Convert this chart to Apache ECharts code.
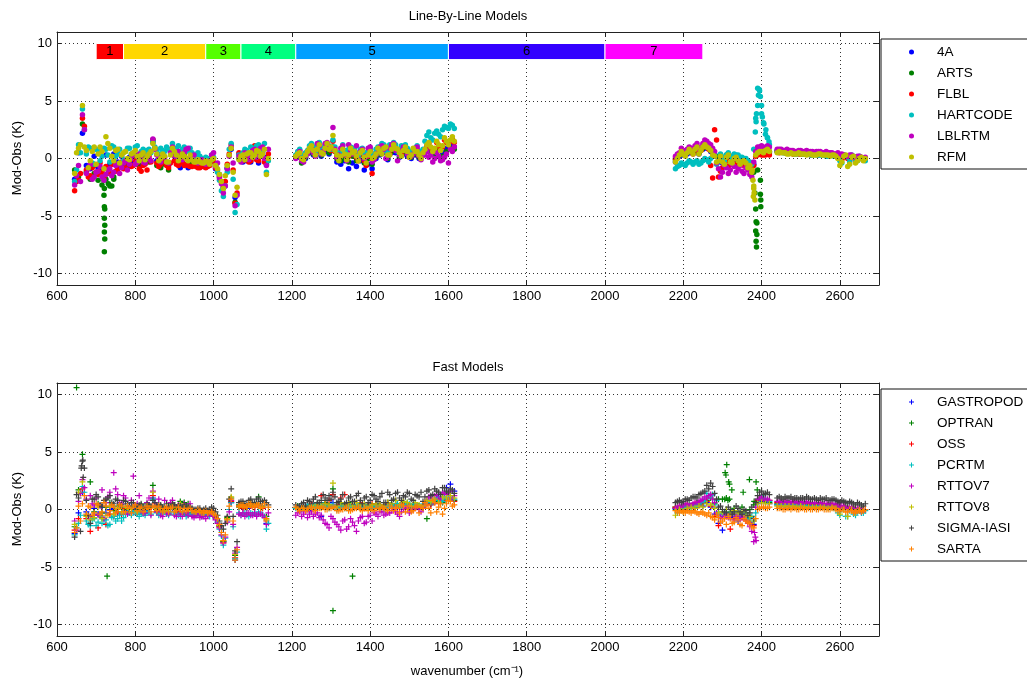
<!DOCTYPE html>
<html lang="en">
<head>
    <meta charset="UTF-8">
    <title>Line-By-Line and Fast Models</title>
    <script src="https://cdn.jsdelivr.net/npm/echarts@6.0.0/dist/echarts.min.js"></script>
    <style>
        html, body { margin: 0; padding: 0; background: #fff; }
    </style>
</head>
<body>
<div id="chartmain" style="width: 1027px; height: 681px;"></div>
<script type="text/javascript">
    // wavenumber samples (cm-1) in the three spectral windows
    var wnA = [645,655,665,675,685,695,705,715,725,735,745,755,765,775,785,795,805,815,825,835,
               845,855,865,875,885,895,905,915,925,935,945,955,965,975,985,995,1005,1015,1025,1035,
               1045,1055,1065,1075,1085,1095,1105,1115,1125,1135];
    var wnB = [1215,1225,1235,1245,1255,1265,1275,1285,1295,1305,1315,1325,1335,1345,1355,1365,1375,1385,1395,1405,
               1415,1425,1435,1445,1455,1465,1475,1485,1495,1505,1515,1525,1535,1545,1555,1565,1575,1585,1595,1605,1615];
    var wnC = [2180,2190,2200,2210,2220,2230,2240,2250,2260,2270,2280,2290,2300,2310,2320,2330,2340,2350,2360,2370,
               2380,2390,2400,2410,2420,
               2440,2450,2460,2470,2480,2490,2500,2510,2520,2530,2540,2550,2560,2570,2580,2590,2600,2610,2620,2630,
               2640,2650,2660];
    // in-between samples (used by the series that fill the middle of the bands)
    var wnA2 = [650,660,670,680,690,700,710,720,730,740,750,760,770,780,790,800,810,820,830,840,
                850,860,870,880,890,900,910,920,930,940,950,960,970,980,990,1000,1010,1020,1030,1040,
                1050,1060,1070,1080,1090,1100,1110,1120,1130,1140];
    var wnB2 = [1210,1220,1230,1240,1250,1260,1270,1280,1290,1300,1310,1320,1330,1340,1350,1360,1370,1380,1390,1400,
                1410,1420,1430,1440,1450,1460,1470,1480,1490,1500,1510,1520,1530,1540,1550,1560,1570,1580,1590,1600,1610];
    var wnC2 = [2185,2195,2205,2215,2225,2235,2245,2255,2265,2275,2285,2295,2305,2315,2325,2335,2345,2355,2365,2375,
                2385,2395,2405,2415,
                2445,2455,2465,2475,2485,2495,2505,2515,2525,2535,2545,2555,2565,2575,2585,2595,2605,2615,2625,2635,
                2645,2655,2665];

    var yTicks = [-10, -5, 0, 5, 10];

    // IASI band bar
    var bandStart = [700, 770, 980, 1070, 1210, 1600, 2000];
    var bandEnd = [770, 980, 1070, 1210, 1600, 2000, 2250];
    var bandNames = ['1', '2', '3', '4', '5', '6', '7'];
    var bandColors = ['#ff0000', '#ffd700', '#55ff00', '#00ff80', '#00a0ff', '#3300ff', '#ff00ff'];

    // ---- Line-By-Line models (Mod-Obs, K) ----
    var lbl4A = [-1.8,0.5,2.2,-0.6,-0.9,0.2,-0.8,-1.0,0.3,-0.5,0.4,-0.3,0.2,-0.6,0.1,-0.4,0.3,-0.6,-0.2,0.4,
                 1.4,-0.2,0.1,-0.4,-0.6,0.8,-0.3,-0.8,-0.5,-0.8,-0.4,-0.6,-0.5,-0.7,-0.6,-0.2,-0.9,-1.5,-2.5,-0.9,
                 0.8,-3.4,0.4,-0.3,-0.2,-0.3,0.9,-0.4,0.5,0.1,
                 0.1,-0.3,0.0,0.5,0.3,0.6,0.2,0.6,0.4,0.7,-0.3,-0.5,-0.2,-0.9,-0.4,-0.7,-0.2,-1.0,-0.5,-0.9,
                 0.0,0.3,0.5,-0.1,0.5,0.5,0.1,0.4,0.2,0.0,0.3,0.0,0.3,0.9,0.7,0.6,0.8,0.5,0.9,1.1,1.0,
                 -0.3,0.2,0.3,0.4,0.5,0.6,0.4,0.8,0.9,0.6,0.2,-0.3,-0.4,-0.1,-0.5,-0.2,-0.3,-0.5,-0.5,-0.7,-0.5,0.5,0.6,0.5,0.5,
                 0.7,0.7,0.6,0.6,0.6,0.5,0.6,0.5,0.5,0.5,0.4,0.5,0.4,0.4,0.4,0.3,0.0,0.3,0.1,0.2,0.0,0.1,-0.1];
    var lblARTS = [-1.0,-1.6,3.0,-1.2,-1.8,-1.3,-1.9,-2.3,-1.8,-2.4,-1.6,-0.9,-0.6,-0.4,-0.7,0.2,-0.5,-0.3,0.0,-0.3,
                   1.6,-0.6,-0.8,-0.5,-1.0,0.4,-0.2,-0.1,0.4,-0.5,-0.3,-0.4,-0.5,-0.6,-0.5,0.0,-0.7,-1.4,-2.6,-0.8,
                   0.9,-3.8,0.0,0.0,0.1,-0.1,0.8,0.1,0.9,-0.5,
                   0.2,-0.4,0.1,0.6,0.4,0.7,0.3,0.8,0.5,1.0,0.0,-0.2,0.1,-0.3,0.2,-0.2,0.3,-0.4,0.0,-0.5,
                   0.2,0.4,0.7,0.0,0.6,0.7,0.2,0.5,0.4,0.1,0.4,0.1,0.4,0.6,0.5,0.4,0.7,0.2,0.6,0.9,0.8,
                   -0.1,0.3,0.4,0.5,0.6,0.7,0.5,0.9,1.0,0.7,0.3,0.2,0.0,0.3,0.2,0.2,0.1,0.0,-0.2,-0.4,-1.2,-1.0,0.5,0.6,0.6,
                   0.6,0.6,0.6,0.5,0.5,0.5,0.5,0.5,0.5,0.4,0.4,0.5,0.4,0.4,0.4,0.3,0.1,0.2,0.1,0.2,-0.1,0.0,0.0];
    var lblFLBL = [-2.8,-1.9,3.5,-1.0,-1.5,-0.6,-1.4,-1.2,-0.7,-1.3,-0.5,-1.0,-0.3,-0.8,-0.2,-0.6,-0.4,-1.1,-0.5,0.2,
                   1.6,-0.4,-0.5,-0.3,-0.8,0.6,-0.5,-0.4,-0.6,-0.6,-0.7,-0.7,-0.8,-0.7,-0.7,0.1,-0.8,-1.6,-2.4,-0.5,
                   1.2,-3.9,0.5,-0.2,0.0,-0.2,1.1,-0.2,0.6,0.0,
                   0.5,0.1,0.4,0.9,0.8,1.0,0.6,1.1,0.9,1.5,0.2,0.4,0.5,0.2,0.6,0.1,0.4,-0.2,0.2,-1.3,
                   0.5,0.7,1.0,0.2,0.9,1.0,0.5,0.8,0.6,0.3,0.7,0.3,0.6,1.1,0.9,0.8,1.1,1.0,1.4,1.5,1.4,
                   0.0,0.4,0.5,0.6,0.7,0.8,0.6,1.0,1.2,-0.6,2.5,-1.6,-0.8,-0.2,-0.5,0.3,-0.1,-0.3,-0.4,-0.6,-0.6,0.3,0.3,0.3,0.3,
                   0.6,0.6,0.5,0.5,0.4,0.5,0.4,0.4,0.4,0.4,0.4,0.4,0.4,0.3,0.4,0.2,0.0,0.2,0.0,0.1,-0.2,0.0,0.0];
    var lblFLBL2 = [-2.0,-1.3,2.8,-1.6,-0.8,-1.2,-0.4,-1.6,-0.9,-0.5,-1.1,-0.6,-0.9,-0.3,-0.7,-0.2,-0.9,-0.6,-1.0,-0.3,
                    0.9,-0.7,-0.2,-0.6,-0.4,-0.2,-0.6,-0.3,-0.5,-0.7,-0.6,-0.8,-0.6,-0.8,-0.6,-0.3,-1.0,-2.0,-2.0,0.4,
                    -1.0,-3.0,0.0,0.3,-0.3,0.6,-0.1,0.8,-0.3,0.4,
                    0.1,0.7,0.0,0.6,1.2,0.4,1.3,0.6,1.1,0.7,0.6,0.0,0.8,-0.1,0.6,0.5,-0.2,0.4,-0.6,0.7,
                    0.0,0.8,0.6,0.9,0.4,1.1,0.7,0.3,0.9,0.2,0.5,0.8,0.2,0.6,1.3,0.7,1.4,0.9,1.6,1.3,1.7,
                    0.2,0.5,0.3,0.7,0.4,0.9,0.7,1.1,0.8,-1.7,1.6,-1.1,-0.4,-0.7,-0.2,-0.5,-0.3,-0.6,-0.8,-1.0,0.2,0.5,0.3,0.4,
                    0.5,0.6,0.5,0.5,0.4,0.4,0.4,0.4,0.3,0.4,0.3,0.4,0.3,0.3,0.3,0.1,-0.1,0.1,-0.2,0.1,-0.1,0.0,0.0];
    var lblHART = [-2.0,1.2,4.3,0.4,0.9,-0.5,0.7,0.2,0.8,-0.3,1.0,0.4,0.3,0.6,0.9,0.5,1.1,0.6,0.4,0.8,
                   1.5,0.7,0.9,0.6,0.8,1.3,0.9,0.6,1.0,0.7,0.5,0.3,0.2,-0.1,0.0,0.3,-0.6,-1.9,-3.3,-1.2,
                   1.3,-4.7,0.3,0.5,0.7,1.0,0.6,1.2,0.5,-1.2,
                   0.6,0.3,0.5,1.1,1.0,1.2,0.8,1.2,1.1,1.6,0.5,0.6,0.7,0.8,0.9,0.5,0.8,0.4,0.6,0.3,
                   0.8,1.0,1.2,0.5,1.1,1.2,0.8,1.0,0.9,0.6,0.9,0.5,0.8,2.0,1.8,2.2,2.1,2.5,2.7,3.0,2.6,
                   -0.9,-0.6,-0.5,-0.4,-0.3,-0.3,-0.5,-0.2,-0.1,0.0,0.3,-0.2,0.1,0.3,0.2,0.4,0.3,0.1,0.0,-0.3,0.8,6.1,3.9,2.1,1.2,
                   0.6,0.6,0.5,0.5,0.5,0.4,0.5,0.4,0.4,0.3,0.3,0.3,0.3,0.2,0.3,0.2,-0.2,0.3,0.1,0.3,-0.1,0.2,-0.1];
    var lblHART2 = [-1.0,0.5,2.5,1.0,-0.4,0.8,-0.2,0.9,0.3,1.1,0.2,0.8,-0.1,0.9,0.4,1.0,0.2,0.8,0.7,0.5,
                    1.0,0.4,0.7,1.0,0.5,0.8,1.1,0.8,0.6,0.9,0.2,0.5,0.0,0.1,-0.3,0.1,-1.2,-2.8,-2.4,0.8,
                    -1.8,-4.0,-0.2,0.8,0.4,0.9,1.1,0.5,1.3,-0.2,
                    0.3,0.8,0.2,0.7,1.3,0.6,1.4,0.9,1.2,0.8,1.0,0.4,1.2,0.5,1.0,0.9,0.3,0.9,0.5,0.9,
                    0.4,1.0,1.3,0.7,1.2,1.4,0.6,1.1,1.2,0.4,0.8,1.1,0.6,1.5,2.3,1.6,2.4,1.9,2.8,2.6,2.9,
                    -0.7,-0.4,-0.6,-0.2,-0.5,-0.2,-0.4,0.0,-0.3,0.2,-0.5,0.4,-0.2,0.5,0.0,0.3,0.1,0.0,-0.2,-0.5,3.5,5.9,3.1,1.8,
                    0.6,0.5,0.6,0.5,0.4,0.5,0.4,0.4,0.3,0.4,0.3,0.3,0.2,0.3,0.2,0.1,-0.4,0.2,-0.3,0.2,-0.2,0.0,-0.2];
    var lblLBLRTM = [-2.3,-0.6,3.8,-1.3,-0.5,-1.6,-1.1,-1.6,-1.4,-0.9,-1.2,-0.5,-0.8,-0.2,-0.5,0.3,-0.3,0.0,-0.4,0.0,
                     1.7,0.3,-0.3,0.1,-0.4,1.0,0.2,0.2,0.5,0.9,-0.1,-0.2,-0.3,-0.4,-0.3,0.3,-0.7,-1.7,-3.0,-0.9,
                     1.0,-4.1,0.2,0.0,0.4,0.2,0.8,0.4,1.0,-0.6,
                     0.3,-0.2,0.2,0.7,0.5,1.3,0.4,1.3,1.0,2.7,0.1,0.9,0.3,1.2,0.4,1.1,0.6,0.0,0.9,-0.3,
                     0.3,1.0,0.8,0.1,1.2,0.7,0.3,1.0,0.4,0.2,0.9,0.2,0.3,0.6,0.3,0.0,0.2,-0.1,0.4,0.8,1.0,
                     0.2,0.5,0.7,0.8,0.9,1.1,0.8,1.3,1.5,1.2,0.6,-0.9,-1.2,-0.8,-1.0,-0.7,-0.9,-1.1,-0.8,-1.4,-0.3,1.0,1.1,1.0,1.0,
                     0.8,0.8,0.7,0.7,0.7,0.6,0.7,0.6,0.6,0.6,0.6,0.6,0.5,0.5,0.5,0.4,0.3,0.3,0.2,0.3,0.1,0.2,0.0];
    var lblLBLRTM2 = [-1.5,-2.0,2.5,-0.9,-1.8,-1.2,-0.7,-1.9,-1.0,-1.5,-0.6,-1.3,-0.4,-1.0,0.0,-0.5,0.4,-0.3,0.2,-0.2,
                      0.8,0.0,0.3,-0.3,0.5,0.2,0.6,-0.1,0.8,0.1,0.3,-0.4,-0.1,-0.5,-0.2,0.5,-0.4,-2.2,-2.4,0.2,
                      -0.4,-3.2,-0.3,0.5,-0.1,0.7,0.1,0.9,0.0,0.8,
                      0.0,0.6,-0.3,0.4,1.0,0.2,1.1,0.6,1.4,0.9,0.8,0.3,1.1,-0.2,0.7,0.5,-0.1,0.8,0.2,1.0,
                      -0.1,0.5,1.1,0.0,0.9,1.3,-0.2,0.7,0.9,0.1,0.4,1.0,-0.1,0.3,0.1,-0.3,0.5,-0.2,0.1,-0.4,0.6,
                      0.4,0.9,0.6,1.0,0.7,1.3,1.0,1.6,1.3,0.9,-0.4,-1.6,-0.6,-1.3,-0.5,-1.2,-0.6,-1.3,-1.0,-1.6,0.6,1.0,0.9,1.1,
                      0.8,0.7,0.8,0.7,0.6,0.7,0.6,0.7,0.6,0.5,0.6,0.5,0.6,0.5,0.4,0.5,0.4,0.2,0.3,0.1,0.2,0.1,0.1];
    var lblRFM = [-1.3,0.9,4.6,0.7,-0.2,1.0,0.4,0.6,1.9,0.9,-0.2,0.8,0.3,0.6,-0.1,0.5,0.2,0.3,-0.1,0.4,
                  1.3,0.4,0.0,0.2,-0.3,0.9,0.3,0.1,0.2,-0.2,-0.1,-0.3,-0.3,-0.4,-0.3,-0.1,-0.6,-1.4,-2.6,-0.6,
                  0.9,-3.2,-0.1,0.3,0.4,0.5,0.3,0.6,0.4,-1.4,
                  0.4,0.0,0.3,0.9,0.7,0.8,0.5,0.9,0.8,2.0,0.3,0.2,0.4,0.3,0.5,0.2,0.5,0.1,0.3,0.0,
                  0.4,0.6,0.9,0.3,0.8,0.9,0.5,0.7,0.6,0.3,0.6,0.3,0.5,1.2,1.0,0.9,1.2,1.1,1.5,1.6,1.5,
                  -0.3,0.3,0.4,0.5,0.6,0.8,0.4,1.0,1.0,0.7,0.2,-0.2,-0.3,0.1,-0.3,0.0,-0.2,-0.3,-0.4,-0.6,-2.6,0.5,0.6,0.7,0.6,
                  0.5,0.5,0.5,0.4,0.4,0.4,0.4,0.4,0.4,0.3,0.3,0.4,0.3,0.3,0.3,0.2,-0.6,0.2,-0.7,0.1,-0.4,0.0,-0.2];
    var lblRFM2 = [0.5,1.2,1.0,-0.8,0.6,-0.5,1.0,-0.9,1.3,0.2,0.7,-0.4,0.5,0.0,0.4,0.7,-0.2,0.5,0.2,0.6,
                   0.9,-0.2,0.4,-0.3,0.3,0.6,-0.2,0.4,0.0,0.3,-0.3,-0.1,-0.4,-0.2,-0.5,0.0,-0.9,-2.0,-1.5,0.3,
                   -1.2,-2.5,0.2,-0.1,0.5,0.1,0.7,0.2,0.8,0.0,
                   0.2,0.5,-0.1,0.6,1.1,0.3,1.2,0.4,1.3,1.0,0.7,-0.2,0.8,-0.1,0.9,0.6,-0.2,0.7,-0.4,0.6,
                   0.1,0.9,0.4,1.0,0.3,1.2,0.8,0.2,1.0,0.1,0.9,0.6,0.0,0.8,1.4,0.6,1.5,0.7,1.8,1.2,1.9,
                   0.0,0.6,0.2,0.8,0.4,1.0,0.7,1.2,0.9,0.3,-0.3,0.2,-0.5,0.3,-0.4,0.1,-0.5,-0.2,-0.8,-1.2,0.3,0.6,0.5,0.8,
                   0.6,0.5,0.4,0.5,0.4,0.5,0.4,0.3,0.4,0.3,0.4,0.3,0.3,0.2,0.3,0.0,-0.3,0.3,-0.5,0.2,-0.2,0.1,0.0];
    // isolated spikes, [wavenumber, K]
    var artsSpikes = [[720,-1.9],[721,-2.6],[720,-3.2],[721,-4.2],[722,-4.4],[721,-5.2],[722,-5.8],[721,-6.4],
                      [722,-7.0],[721,-8.1],[731,-2.2],[740,-2.4],[745,-1.8],
                      [2383,-3.0],[2385,-4.4],[2386,-5.5],[2388,-5.6],[2385,-6.3],[2388,-6.6],[2386,-7.2],
                      [2387,-7.7],[2397,-1.9],[2397,-3.1],[2398,-3.6],[2398,-4.2]];
    var hartSpikes = [[2384,2.3],[2386,3.2],[2387,3.9],[2390,4.6],[2392,5.5],[2394,6.0],[2397,5.4],[2400,4.6],
                      [2402,3.6],[2406,3.0],[2411,2.5],[2415,1.8],[2419,1.45]];
    var rfmSpikes = [[2376,-1.0],[2378,-1.9],[2380,-2.4],[2381,-3.0],[2383,-3.6],[2379,-3.3]];

    // ---- Fast models (Mod-Obs, K) ----
    var fGASTROPOD = [-2.1,-0.3,1.5,-0.2,-0.6,0.1,-0.4,0.2,-0.3,0.0,0.1,-0.3,0.2,-0.1,0.0,-0.2,0.1,-0.2,-0.1,0.1,
                      1.0,-0.2,-0.1,0.0,-0.3,0.1,-0.2,-0.3,-0.4,-0.4,-0.3,-0.4,-0.4,-0.3,-0.5,-0.2,-0.7,-1.5,-2.8,-0.8,
                      0.6,-4.4,0.2,0.2,0.1,0.3,0.2,0.4,0.1,-1.2,
                      0.0,0.2,0.3,-0.1,0.2,0.3,-0.6,0.4,0.3,0.6,0.2,0.4,0.2,0.4,0.3,0.2,0.4,0.1,0.3,0.2,
                      0.4,0.3,0.2,0.4,0.3,0.5,0.2,0.4,0.5,0.2,0.4,0.3,0.2,0.6,0.5,0.8,1.1,1.4,1.9,2.2,1.6,
                      0.1,0.0,0.2,0.1,0.3,0.2,0.4,0.3,0.6,0.2,-0.4,-1.2,-1.8,-0.5,-0.7,-0.4,-1.0,-0.6,-0.8,-1.1,-1.3,0.5,0.7,0.6,0.5,
                      0.4,0.4,0.4,0.4,0.4,0.3,0.4,0.3,0.3,0.3,0.3,0.3,0.3,0.2,0.3,0.2,0.0,0.2,0.0,0.1,-0.1,0.1,0.0];
    var fOPTRAN = [-1.5,1.7,4.8,-0.5,2.4,-0.2,0.5,-0.3,0.2,0.6,-0.1,0.3,0.1,0.0,-0.2,0.2,0.0,0.4,-0.3,0.2,
                   2.1,0.1,0.3,-0.1,0.0,0.6,0.1,0.7,0.6,0.5,0.0,-0.2,-0.1,-0.3,-0.3,-0.1,-0.6,-1.4,-2.8,-0.7,
                   1.0,-4.0,0.4,0.5,0.3,0.6,0.5,1.1,0.3,-0.6,
                   0.3,0.1,0.2,0.4,0.3,0.5,0.2,0.6,0.4,1.8,0.2,0.5,0.3,0.6,0.4,0.3,0.5,0.2,0.4,0.3,
                   0.5,0.4,0.2,0.6,0.4,0.5,0.3,0.6,0.5,0.2,0.4,0.3,0.2,0.6,0.5,0.7,0.8,0.6,0.9,1.0,0.8,
                   0.2,0.1,0.3,0.2,0.3,0.4,0.5,0.6,0.8,1.0,0.5,0.9,0.9,0.0,-0.2,0.1,-0.4,0.2,-0.3,0.0,0.4,0.9,0.8,0.7,0.6,
                   0.5,0.5,0.5,0.4,0.5,0.4,0.5,0.4,0.4,0.4,0.4,0.4,0.3,0.3,0.3,0.3,0.2,0.2,0.1,0.2,0.0,0.1,0.0];
    var fOSS = [-1.8,-0.8,1.8,-0.8,-1.9,-0.5,-1.6,-0.7,-1.3,-0.4,-0.6,-0.2,-0.4,0.1,-0.3,0.0,-0.4,-0.2,-0.3,0.0,
                1.2,-0.2,-0.3,0.0,-0.4,0.3,-0.3,-0.2,-0.4,-0.3,-0.3,-0.4,-0.3,-0.4,-0.4,-0.1,-0.7,-1.5,-2.9,-0.8,
                0.7,-4.2,0.3,0.1,0.2,0.3,0.2,0.5,0.1,-1.0,
                0.1,0.3,0.2,0.4,0.6,0.3,1.2,0.5,0.8,1.3,0.4,1.0,1.3,0.5,0.4,0.3,0.6,0.2,0.3,0.5,
                0.4,0.3,0.2,0.5,0.3,0.4,0.2,0.5,0.4,0.1,0.3,0.2,0.1,0.5,0.4,0.6,0.5,0.7,0.8,0.9,0.7,
                0.2,0.3,0.0,0.4,0.3,0.5,0.4,0.6,0.7,0.3,-0.6,-1.4,-0.4,-0.6,-1.7,-0.8,-0.5,-0.7,-0.9,-1.2,-1.4,0.8,1.0,0.9,0.8,
                0.6,0.6,0.6,0.5,0.6,0.5,0.6,0.5,0.5,0.5,0.5,0.5,0.4,0.4,0.4,0.3,0.2,0.3,0.1,0.2,0.0,0.1,0.0];
    var fPCRTM = [-2.2,-1.2,2.0,-1.0,-1.4,-0.8,-1.1,-1.2,-0.9,-1.3,-0.6,-0.8,-1.0,-0.4,-0.3,-0.2,-0.4,-0.3,-0.5,-0.2,
                  0.9,-0.3,-0.4,-0.2,-0.5,0.2,-0.4,-0.6,-0.3,-0.5,-0.4,-0.5,-0.4,-0.5,-0.5,-0.3,-0.8,-1.7,-3.1,-1.0,
                  0.6,-4.3,-0.3,-0.4,-0.5,-0.3,-0.4,-0.2,-0.5,-1.7,
                  0.2,0.0,0.3,0.2,0.4,0.1,0.3,0.2,0.1,0.4,0.0,0.2,0.1,0.3,0.2,0.4,0.1,0.3,0.2,0.1,
                  0.3,0.2,0.0,0.3,0.2,0.5,0.3,0.4,0.6,0.3,0.5,0.3,0.2,0.7,0.6,0.8,0.9,0.7,1.0,1.2,0.9,
                  0.0,0.2,0.1,0.3,0.2,0.4,0.5,0.8,1.4,1.2,0.4,-0.2,-0.6,-0.3,-0.5,-0.2,-0.4,-0.6,-0.5,-0.7,-1.0,0.6,1.2,0.9,0.7,
                  0.4,0.4,0.3,0.4,0.3,0.3,0.4,0.3,0.3,0.3,0.3,0.3,0.2,0.2,0.2,0.2,-0.5,0.1,-0.6,0.0,-0.5,-0.1,-0.3];
    var fPCRTM2 = [-1.6,-0.5,1.5,-1.3,-0.9,-1.4,-0.6,-0.9,-1.4,-0.7,-1.0,-0.5,-0.7,-0.3,-0.5,-0.1,-0.6,-0.4,-0.3,-0.4,
                   0.2,-0.5,-0.2,-0.4,-0.2,-0.4,-0.5,-0.3,-0.6,-0.4,-0.5,-0.4,-0.6,-0.4,-0.6,-0.5,-1.1,-2.3,-2.5,0.0,
                   -1.5,-3.7,-0.5,-0.3,-0.6,-0.4,-0.5,-0.3,-0.6,-1.2,
                   0.1,0.3,0.1,0.4,0.2,0.3,0.2,0.4,0.2,0.3,0.2,0.1,0.3,0.1,0.3,0.2,0.3,0.1,0.2,0.3,
                   0.1,0.3,0.2,0.1,0.4,0.3,0.5,0.2,0.4,0.5,0.3,0.4,0.3,0.5,0.8,0.6,1.0,0.8,1.1,0.9,1.0,
                   -0.3,0.1,0.2,0.1,0.3,0.3,0.6,0.7,1.1,1.3,0.8,-0.4,-0.3,-0.5,-0.2,-0.6,-0.3,-0.4,-0.8,-0.6,-0.3,0.9,1.0,0.8,
                   0.3,0.4,0.3,0.3,0.4,0.3,0.3,0.3,0.2,0.3,0.2,0.3,0.2,0.2,0.1,-0.3,0.0,-0.6,-0.1,-0.4,-0.2,-0.3,-0.1];
    var fRTTOV7 = [-1.0,0.7,2.6,0.9,1.2,0.4,-0.5,1.7,0.6,1.5,3.2,1.3,0.5,1.0,0.3,2.9,0.5,0.1,-0.3,1.0,
                   1.6,-0.2,-0.5,0.8,-0.4,0.8,-0.6,-0.4,0.5,-0.5,-0.6,-0.5,-0.7,-0.6,-0.5,-0.4,-0.9,-1.6,-2.9,-1.1,
                   0.8,-3.8,-0.4,-0.3,-0.4,-0.5,-0.3,-0.4,-0.5,-1.3,
                   -0.3,-0.6,-0.2,-0.4,-0.6,-0.3,-0.5,-1.2,-1.6,-0.8,-1.3,-1.8,-0.9,-1.5,-1.1,-1.9,-0.7,-1.2,-0.6,-1.0,
                   -0.4,-0.2,-0.5,-0.3,-0.1,-0.2,-0.6,0.0,0.2,-0.1,0.1,0.0,0.2,0.8,1.0,1.2,0.9,1.4,1.3,1.6,1.2,
                   0.1,0.3,0.4,0.5,0.4,0.6,0.7,0.9,1.0,1.3,0.6,-0.5,-0.8,-0.4,-0.6,-0.9,-0.5,-0.7,-1.0,-1.5,-2.8,0.9,1.1,0.9,0.8,
                   0.7,0.7,0.7,0.6,0.7,0.6,0.7,0.6,0.6,0.6,0.5,0.6,0.5,0.5,0.5,0.4,0.2,0.3,0.0,0.2,-0.3,0.1,-0.1];
    var fRTTOV7b = [-1.8,1.4,1.9,-0.6,0.5,1.0,0.3,-0.8,1.1,0.4,1.8,0.6,1.2,-0.4,0.8,0.4,1.2,-0.3,0.6,-0.5,
                    0.5,0.9,-0.6,-0.3,0.6,-0.5,0.4,-0.6,-0.3,0.5,-0.7,-0.4,-0.6,-0.8,-0.4,-0.6,-1.2,-2.2,-2.4,-0.2,
                    -1.3,-3.3,-0.5,-0.6,-0.3,-0.5,-0.6,-0.4,-0.7,-0.3,
                    -0.5,-0.2,-0.4,-0.7,-0.2,-0.4,-0.7,-0.9,-1.3,-0.6,-1.1,-1.5,-1.0,-1.7,-0.8,-1.4,-1.0,-0.6,-1.1,-0.5,
                    -0.3,-0.6,-0.2,-0.4,-0.3,0.0,-0.4,-0.2,0.1,-0.3,0.0,0.2,-0.2,0.4,1.1,0.7,1.3,1.0,1.5,1.4,1.0,
                    0.2,0.2,0.5,0.3,0.5,0.6,0.8,1.1,1.2,0.9,-0.3,-0.7,-0.6,-0.7,-0.4,-0.6,-0.8,-0.6,-1.2,-1.9,0.2,1.0,0.8,0.9,
                    0.7,0.6,0.7,0.6,0.7,0.6,0.6,0.7,0.6,0.5,0.6,0.5,0.5,0.5,0.4,0.5,0.3,0.1,0.2,-0.1,0.1,-0.2,0.0];
    var fRTTOV8 = [-1.3,1.5,2.4,-0.6,-0.9,-0.7,0.2,-0.8,-0.5,0.3,-0.4,0.1,-0.2,0.2,0.0,0.3,-0.2,0.1,0.0,0.2,
                   1.5,0.0,0.1,-0.1,0.1,0.4,0.0,0.5,0.3,0.1,-0.1,-0.2,-0.2,-0.3,-0.3,-0.2,-0.5,-1.4,-2.7,-0.8,
                   1.1,-3.9,0.2,0.3,0.2,0.4,0.3,0.5,0.2,-0.9,
                   0.1,0.2,0.0,0.3,0.2,0.4,0.3,0.5,0.4,2.3,0.3,0.6,0.4,0.5,0.3,0.6,0.4,0.5,0.2,0.4,
                   0.5,0.4,0.3,0.6,0.5,0.8,0.4,0.7,0.6,0.3,0.6,0.4,0.3,0.8,0.7,0.9,0.6,1.1,1.0,1.2,1.0,
                   -0.5,0.0,-0.2,0.1,0.2,0.1,0.3,0.2,0.5,0.4,0.1,-0.3,-0.2,0.0,-0.4,-0.1,-0.3,-0.2,-0.5,-0.6,-1.0,0.5,0.6,0.5,0.5,
                   0.3,0.3,0.3,0.3,0.3,0.2,0.3,0.2,0.2,0.2,0.2,0.2,0.2,0.1,0.2,0.1,-0.4,0.0,-0.6,0.0,-0.3,0.0,-0.1];
    var fSIGMA = [-2.4,1.0,4.2,0.8,-1.2,0.9,1.1,0.3,0.9,1.2,0.5,0.8,0.4,0.7,0.3,0.6,0.3,0.5,0.2,0.4,
                  0.8,0.3,0.4,0.2,0.3,0.5,0.2,0.3,0.4,0.2,0.1,0.0,0.1,0.0,-0.1,0.2,-0.2,-1.0,-1.7,-0.6,
                  1.8,-3.6,0.6,0.7,0.5,0.9,0.6,1.0,0.7,0.6,
                  0.2,0.5,0.3,0.7,0.9,0.6,0.8,1.0,1.2,1.5,0.6,0.9,0.5,1.0,0.7,1.2,0.8,1.0,0.6,1.3,
                  0.9,1.1,0.6,1.5,0.8,1.4,1.0,1.2,1.5,0.9,1.3,1.1,0.7,1.6,1.2,1.8,1.5,1.9,1.6,1.8,1.4,
                  0.6,0.8,0.7,0.9,1.0,1.1,1.3,1.5,2.1,2.3,1.4,0.2,0.0,-0.3,0.0,-0.2,0.1,-0.4,-0.1,-0.3,-0.8,1.2,1.6,1.4,1.3,
                  1.0,1.0,1.1,1.0,0.9,1.0,1.0,0.9,1.0,0.9,0.9,1.0,0.9,0.8,0.9,0.8,0.6,0.7,0.5,0.6,0.4,0.5,0.3];
    var fSIGMA2 = [1.3,-1.9,3.6,-0.5,0.9,1.3,0.4,0.8,1.0,0.6,0.9,0.4,0.8,0.5,0.6,0.2,0.4,0.2,0.5,0.3,
                   0.6,0.4,0.2,0.5,0.2,0.4,0.3,0.2,0.3,0.2,0.0,0.1,-0.1,0.1,0.0,0.1,-0.5,-1.4,-1.2,0.9,
                   -0.6,-2.8,0.7,0.5,0.8,0.6,0.9,0.7,0.8,0.4,
                   0.4,0.3,0.6,0.8,0.5,1.1,0.6,1.3,0.8,0.9,1.1,0.7,1.3,0.6,1.1,0.7,1.4,0.5,1.1,0.8,
                   1.2,0.7,1.4,0.6,1.3,0.9,1.5,0.8,1.1,1.4,0.8,1.2,1.5,1.1,1.7,1.3,1.6,1.3,1.9,1.5,1.7,
                   0.7,0.6,0.9,0.8,1.1,1.0,1.4,1.6,1.8,2.0,0.9,0.3,-0.2,0.2,-0.4,0.3,-0.2,0.0,-0.5,0.2,0.6,1.5,1.3,1.5,
                   1.1,0.9,1.0,1.1,1.0,0.9,1.0,1.1,0.9,1.0,0.8,0.9,1.0,0.8,0.9,0.7,0.8,0.6,0.7,0.5,0.6,0.4,0.5];
    var fSARTA = [-2.0,0.3,0.5,-0.4,0.2,-0.3,0.4,-0.2,0.3,-0.1,0.2,0.0,0.3,-0.2,0.1,0.2,-0.1,0.2,0.0,0.1,
                  0.3,-0.1,0.0,0.1,-0.2,0.2,-0.1,0.0,0.1,0.0,-0.1,-0.2,-0.1,-0.2,-0.3,-0.2,-0.5,-1.3,-2.7,-0.9,
                  0.9,-4.4,0.3,0.4,0.3,0.5,0.3,0.4,0.2,-0.8,
                  0.0,0.1,-0.1,0.1,0.0,0.2,0.1,0.0,0.1,0.2,-0.1,0.0,0.1,-0.1,0.0,0.1,0.0,0.1,-0.1,0.0,
                  0.1,0.0,0.1,-0.1,0.1,0.2,-0.3,0.3,0.0,-0.2,0.2,-0.3,0.1,0.4,-0.3,0.6,0.2,-0.4,0.5,0.7,0.4,
                  -0.1,-0.3,-0.2,-0.1,-0.3,-0.2,-0.4,-0.3,-0.5,-0.6,-0.9,-0.7,-1.0,-1.3,-0.8,-1.1,-0.9,-1.4,-1.0,-1.2,-1.6,0.0,0.2,0.1,0.2,
                  0.1,0.1,0.0,0.1,0.1,0.0,0.1,0.0,0.1,0.0,0.0,0.1,0.0,0.0,0.1,0.0,-0.1,0.0,-0.2,-0.1,-0.2,-0.1,-0.1];
    var fSARTA2 = [-1.6,-1.0,1.2,0.3,-0.5,0.5,-0.4,0.6,-0.5,0.4,-0.3,0.4,-0.2,0.3,-0.3,0.4,0.1,-0.2,0.3,-0.2,
                   0.2,0.3,-0.2,0.2,0.1,-0.2,0.2,-0.2,-0.1,0.1,-0.2,0.0,-0.3,-0.1,-0.2,-0.4,-0.8,-2.0,-2.2,0.3,
                   -1.0,-3.5,0.4,0.2,0.5,0.2,0.4,0.1,0.5,0.2,
                   0.2,-0.1,0.1,0.0,0.2,-0.1,0.1,0.2,0.0,0.1,0.2,-0.1,0.0,0.2,-0.1,0.1,0.2,-0.1,0.1,0.2,
                   -0.1,0.1,0.2,0.0,0.3,-0.1,0.1,0.4,-0.2,0.3,-0.1,0.3,0.2,0.6,0.1,0.8,-0.2,0.5,0.1,0.8,0.3,
                   -0.2,-0.1,-0.3,-0.2,-0.1,-0.3,-0.2,-0.4,-0.3,-0.7,-0.5,-1.1,-0.8,-0.6,-1.2,-0.7,-1.3,-0.8,-1.1,-1.5,-0.8,0.1,0.2,0.1,
                   0.1,0.0,0.1,0.0,0.1,0.0,0.1,0.0,0.0,0.1,0.0,0.1,0.0,0.0,0.1,-0.1,0.0,-0.2,0.0,-0.3,-0.1,-0.2,0.0];
    var optranSpikes = [[650,10.6],[728,-5.8],[1305,-8.8],[1355,-5.8],[1545,-0.8],
                        [2311,3.9],[2307,3.2],[2309,3.0],[2316,2.4],[2318,2.2],[2324,1.7],[2353,1.5],[2369,2.6],
                        [2386,2.4],[2389,1.7],[2306,0.9],[2310,1.0],[2314,0.8],[2318,0.9],[2381,0.7]];
    var sigmaSpikes = [[662,3.6],[667,2.8],[663,3.8],[666,4.3]];
    var rttov7Spikes = [[2382,-2.0],[2384,-2.4],[2386,-2.7]];

    var lblNames = ['4A', 'ARTS', 'FLBL', 'HARTCODE', 'LBLRTM', 'RFM'];
    var lblColors = ['#0000ff', '#008000', '#ff0000', '#00bfbf', '#bf00bf', '#bfbf00'];
    var lblValues = [lbl4A, lblARTS, lblFLBL, lblHART, lblLBLRTM, lblRFM];
    var lblValues2 = [[], [], lblFLBL2, lblHART2, lblLBLRTM2, lblRFM2];
    var lblExtra = [[], artsSpikes, [], hartSpikes, [], rfmSpikes];

    var fastNames = ['GASTROPOD', 'OPTRAN', 'OSS', 'PCRTM', 'RTTOV7', 'RTTOV8', 'SIGMA-IASI', 'SARTA'];
    var fastColors = ['#0000ff', '#008000', '#ff0000', '#00bfbf', '#bf00bf', '#bfbf00', '#404040', '#ff8000'];
    var fastValues = [fGASTROPOD, fOPTRAN, fOSS, fPCRTM, fRTTOV7, fRTTOV8, fSIGMA, fSARTA];
    var fastValues2 = [[], [], [], fPCRTM2, fRTTOV7b, [], fSIGMA2, fSARTA2];
    var fastExtra = [[], optranSpikes, [], [], rttov7Spikes, [], sigmaSpikes, []];

    var FONT = '"Liberation Sans", Arial, Helvetica, sans-serif';
    var PLUS = 'path://M2,0H3V5H2Z M0,2H5V3H0Z';
    var wn = wnA.concat(wnB, wnC);
    var wn2 = wnA2.concat(wnB2, wnC2);

    function points(xs, vals) {
        var out = [];
        for (var i = 0; i < xs.length && i < vals.length; i++) {
            out.push([xs[i], vals[i]]);
        }
        return out;
    }

    function gridLines() {
        return {
            silent: true,
            symbol: 'none',
            label: { show: false },
            lineStyle: { type: [1, 3], color: '#333', width: 1 },
            data: yTicks.map(function (v) { return { yAxis: v }; })
        };
    }

    function xAxes(gi) {
        var base = {
            gridIndex: gi, type: 'value', min: 600, max: 2700, interval: 200,
            axisLine: { show: true, onZero: false, lineStyle: { color: '#222', width: 1 } },
            axisTick: { inside: true, length: 5, lineStyle: { color: '#222' } }
        };
        var bottom = Object.assign({}, base, {
            position: 'bottom',
            axisLabel: {
                show: true, showMaxLabel: false, margin: 5, color: '#000', fontSize: 13, fontFamily: FONT,
                formatter: function (v) { return String(v); }
            },
            splitLine: { show: true, lineStyle: { type: [1, 3], color: '#333', width: 1 } }
        });
        var top = Object.assign({}, base, {
            position: 'top',
            axisLabel: { show: false },
            splitLine: { show: false }
        });
        return [bottom, top];
    }

    function yAxes(gi) {
        var base = {
            gridIndex: gi, type: 'value', min: -11, max: 11,
            axisLine: { show: true, onZero: false, lineStyle: { color: '#222', width: 1 } },
            axisTick: { inside: true, length: 5, customValues: yTicks, lineStyle: { color: '#222' } },
            splitLine: { show: false }
        };
        var left = Object.assign({}, base, {
            position: 'left',
            axisLabel: { show: true, customValues: yTicks, margin: 5, color: '#000', fontSize: 13, fontFamily: FONT }
        });
        var right = Object.assign({}, base, {
            position: 'right',
            axisLabel: { show: false }
        });
        return [left, right];
    }

    var series = [];
    lblNames.forEach(function (name, i) {
        var s = {
            name: name, type: 'scatter', xAxisIndex: 0, yAxisIndex: 0,
            symbol: 'circle', symbolSize: 5.5,
            itemStyle: { color: lblColors[i], opacity: 1 },
            data: points(wn, lblValues[i]).concat(points(wn2, lblValues2[i]), lblExtra[i])
        };
        if (i === 0) { s.markLine = gridLines(); }
        series.push(s);
    });
    series.push({
        type: 'custom', xAxisIndex: 0, yAxisIndex: 0, z: 5, silent: true,
        encode: { x: [0, 1], y: [2, 3] },
        data: bandStart.map(function (s, i) { return [s, bandEnd[i], 10, 8.6]; }),
        renderItem: function (params, api) {
            var p0 = api.coord([api.value(0), api.value(2)]);
            var p1 = api.coord([api.value(1), api.value(3)]);
            return {
                type: 'rect',
                shape: { x: p0[0], y: p0[1], width: p1[0] - p0[0], height: p1[1] - p0[1] },
                style: { fill: bandColors[params.dataIndex], stroke: '#ffffff', lineWidth: 1 },
                textContent: {
                    style: { text: bandNames[params.dataIndex], fill: '#000', fontSize: 13, fontFamily: FONT }
                },
                textConfig: { position: 'inside' }
            };
        }
    });
    fastNames.forEach(function (name, i) {
        var s = {
            name: name, type: 'scatter', xAxisIndex: 2, yAxisIndex: 2,
            symbol: PLUS, symbolSize: 6,
            itemStyle: { color: fastColors[i], opacity: 1 },
            data: points(wn, fastValues[i]).concat(points(wn2, fastValues2[i]), fastExtra[i])
        };
        if (i === 0) { s.markLine = gridLines(); }
        series.push(s);
    });

    function legendOf(names, colors, top, icon) {
        return {
            data: names.map(function (n, i) {
                return { name: n, icon: icon, itemStyle: { color: colors[i], borderWidth: 0 } };
            }),
            orient: 'vertical', left: 881, top: top,
            padding: [6, 40, 5, 28], itemGap: 7, itemWidth: 5, itemHeight: 5,
            borderColor: '#111', borderWidth: 1, backgroundColor: '#fff',
            selectedMode: false,
            textStyle: { color: '#000', fontSize: 13.5, fontFamily: FONT, padding: [0, 0, 0, 18] }
        };
    }

    var option = {
        animation: false,
        backgroundColor: '#fff',
        grid: [
            { left: 57, top: 32, width: 822, height: 253 },
            { left: 57, top: 383, width: 822, height: 253 }
        ],
        xAxis: xAxes(0).concat(xAxes(1)),
        yAxis: yAxes(0).concat(yAxes(1)),
        legend: [
            legendOf(lblNames, lblColors, 39, 'circle'),
            legendOf(fastNames, fastColors, 389, PLUS)
        ],
        graphic: [
            { type: 'text', x: 468, y: 16, style: { text: 'Line-By-Line Models', align: 'center', verticalAlign: 'middle', fill: '#000', fontSize: 13, fontFamily: FONT } },
            { type: 'text', x: 468, y: 367, style: { text: 'Fast Models', align: 'center', verticalAlign: 'middle', fill: '#000', fontSize: 13, fontFamily: FONT } },
            { type: 'text', x: 17, y: 158, rotation: Math.PI / 2, style: { text: 'Mod-Obs (K)', align: 'center', verticalAlign: 'middle', fill: '#000', fontSize: 13, fontFamily: FONT } },
            { type: 'text', x: 17, y: 509, rotation: Math.PI / 2, style: { text: 'Mod-Obs (K)', align: 'center', verticalAlign: 'middle', fill: '#000', fontSize: 13, fontFamily: FONT } },
            { type: 'text', x: 467, y: 671, style: { text: 'wavenumber (cm\u207B\u00B9)', align: 'center', verticalAlign: 'middle', fill: '#000', fontSize: 13, fontFamily: FONT } }
        ],
        series: series
    };

    var myChart = echarts.init(document.getElementById('chartmain'));
    myChart.setOption(option);
</script>
</body>
</html>
